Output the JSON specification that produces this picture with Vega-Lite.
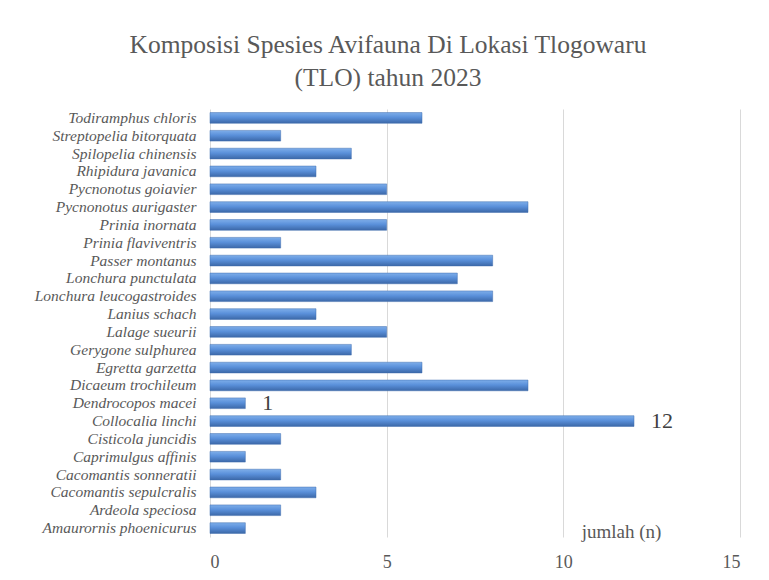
{
  "$schema": "https://vega.github.io/schema/vega-lite/v6.json",
  "autosize": "none",
  "padding": {"left": 210, "top": 109, "right": 29, "bottom": 43},
  "width": 530,
  "height": 428,
  "background": "white",
  "config": {"view": {"stroke": null}},
  "title": {
    "text": ["Komposisi Spesies Avifauna Di Lokasi Tlogowaru", "(TLO) tahun 2023"],
    "font": "Liberation Serif",
    "fontSize": 25.5,
    "fontWeight": "normal",
    "color": "#595959",
    "lineHeight": 33,
    "anchor": "middle",
    "dx": -87,
    "offset": 18
  },
  "data": {
    "values": [
      {"species": "Todiramphus chloris", "n": 6},
      {"species": "Streptopelia bitorquata", "n": 2},
      {"species": "Spilopelia chinensis", "n": 4},
      {"species": "Rhipidura javanica", "n": 3},
      {"species": "Pycnonotus goiavier", "n": 5},
      {"species": "Pycnonotus aurigaster", "n": 9},
      {"species": "Prinia inornata", "n": 5},
      {"species": "Prinia flaviventris", "n": 2},
      {"species": "Passer montanus", "n": 8},
      {"species": "Lonchura punctulata", "n": 7},
      {"species": "Lonchura leucogastroides", "n": 8},
      {"species": "Lanius schach", "n": 3},
      {"species": "Lalage sueurii", "n": 5},
      {"species": "Gerygone sulphurea", "n": 4},
      {"species": "Egretta garzetta", "n": 6},
      {"species": "Dicaeum trochileum", "n": 9},
      {"species": "Dendrocopos macei", "n": 1},
      {"species": "Collocalia linchi", "n": 12},
      {"species": "Cisticola juncidis", "n": 2},
      {"species": "Caprimulgus affinis", "n": 1},
      {"species": "Cacomantis sonneratii", "n": 2},
      {"species": "Cacomantis sepulcralis", "n": 3},
      {"species": "Ardeola speciosa", "n": 2},
      {"species": "Amaurornis phoenicurus", "n": 1}
    ]
  },
  "encoding": {
    "y": {
      "field": "species",
      "type": "nominal",
      "sort": null,
      "scale": {"paddingInner": 0.4, "paddingOuter": 0.2},
      "axis": {
        "title": null,
        "domain": false,
        "ticks": false,
        "grid": false,
        "labelFont": "Liberation Serif",
        "labelFontStyle": "italic",
        "labelFontSize": 15.5,
        "labelColor": "#595959",
        "labelPadding": 14,
        "labelLimit": 220
      }
    },
    "x": {
      "field": "n",
      "type": "quantitative",
      "scale": {"domain": [0, 15]},
      "axis": {
        "values": [0, 5, 10, 15],
        "title": "jumlah (n)",
        "titleFont": "Liberation Serif",
        "titleFontSize": 19,
        "titleFontWeight": "normal",
        "titleColor": "#595959",
        "titleX": 411,
        "titleY": -6,
        "titleAlign": "center",
        "titleBaseline": "middle",
        "domain": false,
        "ticks": false,
        "grid": true,
        "gridColor": "#D9D9D9",
        "gridWidth": 1,
        "labelFont": "Liberation Serif",
        "labelFontSize": 18,
        "labelColor": "#595959",
        "labelPadding": 16
      }
    }
  },
  "layer": [
    {
      "mark": {
        "type": "bar",
        "color": {
          "gradient": "linear",
          "x1": 0, "y1": 0, "x2": 0, "y2": 1,
          "stops": [
            {"offset": 0, "color": "#7EAEEA"},
            {"offset": 0.45, "color": "#5A90DA"},
            {"offset": 1, "color": "#3C68A8"}
          ]
        },
        "stroke": "#3F6DAE",
        "strokeWidth": 0.5
      }
    },
    {
      "transform": [{"filter": "datum.species == 'Dendrocopos macei' || datum.species == 'Collocalia linchi'"}],
      "mark": {
        "type": "text",
        "align": "left",
        "baseline": "middle",
        "dx": 17,
        "font": "Liberation Serif",
        "fontSize": 22,
        "color": "#404040"
      },
      "encoding": {"text": {"field": "n", "type": "quantitative"}}
    }
  ]
}
